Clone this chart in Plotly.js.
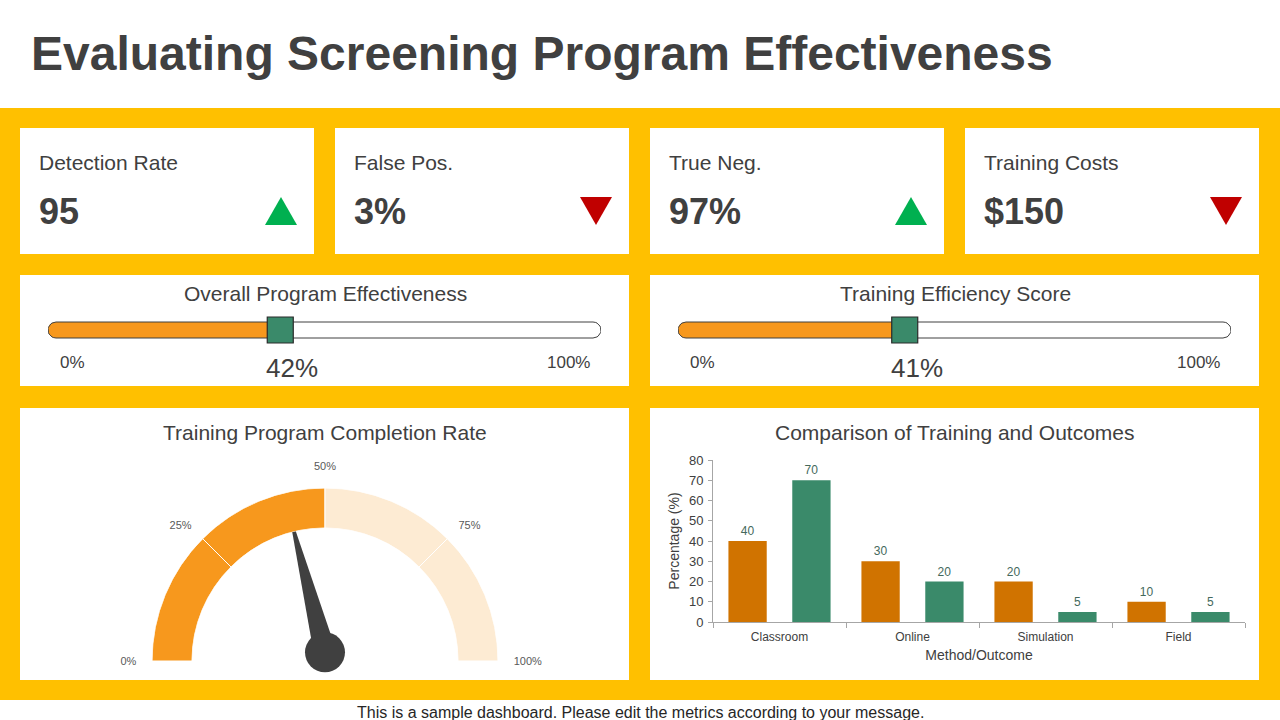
<!DOCTYPE html>
<html>
<head>
<meta charset="utf-8">
<script src="https://cdn.plot.ly/plotly-3.0.1.min.js"></script>
<style>
  html, body { margin: 0; padding: 0; background: #ffffff; }
  #dash { width: 1280px; height: 720px; }
</style>
</head>
<body>
<div id="dash"></div>
<script>
// ---- Dashboard values ----
const pageTitle = 'Evaluating Screening Program Effectiveness';
const footerNote = 'This is a sample dashboard. Please edit the metrics according to your message.';

const kpiLabels = ['Detection Rate', 'False Pos.', 'True Neg.', 'Training Costs'];
const kpiValues = ['95', '3%', '97%', '$150'];
const kpiTrends = ['up', 'down', 'up', 'down'];

const progressTitles = ['Overall Program Effectiveness', 'Training Efficiency Score'];
const progressValues = [42, 41];

const gaugeTitle = 'Training Program Completion Rate';
const gaugeBands = [0, 25, 50, 75, 100];
const gaugeFilled = 50;
const gaugeNeedle = 42;
const gaugeTickText = ['0%', '25%', '50%', '75%', '100%'];

const barTitle = 'Comparison of Training and Outcomes';
const methods = ['Classroom', 'Online', 'Simulation', 'Field'];
const trainingPct = [40, 30, 20, 10];
const outcomePct = [70, 20, 5, 5];

// ---- Page geometry helpers (pixel -> paper) ----
const W = 1280, H = 720;
const px = v => v / W;
const py = v => 1 - v / H;

const TXT = '#404040';
const YELLOW = '#FFC000';
const ORANGE = '#F7981D';
const PEACH = '#FDEBD3';
const GREEN = '#3A8A6A';
const BAR_ORANGE = '#D07300';
const FONT = 'Liberation Sans, Arial, sans-serif';

const shapes = [];
const annotations = [];
const traces = [];

function rect(x0, y0, x1, y1, color) {
  shapes.push({type: 'rect', xref: 'paper', yref: 'paper', layer: 'below',
    x0: px(x0), x1: px(x1), y0: py(y1), y1: py(y0),
    fillcolor: color, line: {width: 0}});
}
function label(x, y, text, size, opts) {
  annotations.push(Object.assign({xref: 'paper', yref: 'paper', x: px(x), y: py(y),
    text: text, showarrow: false, xanchor: 'center', yanchor: 'middle',
    font: {family: FONT, size: size, color: TXT}}, opts || {}));
}

// Yellow band behind the cards
rect(0, 108, 1280, 700, YELLOW);

// Title and footer
label(29, 54, '<b>' + pageTitle + '</b>', 48, {xanchor: 'left'});
label(640, 712, footerNote, 16, {font: {family: FONT, size: 16, color: '#262626'}});

// ---- KPI cards ----
const kpiLeft = [20, 335, 650, 965];
kpiLabels.forEach((lab, i) => {
  const x0 = kpiLeft[i];
  rect(x0, 128, x0 + 294, 254, '#ffffff');
  label(x0 + 17, 163, lab, 21, {xanchor: 'left'});
  label(x0 + 17, 211, '<b>' + kpiValues[i] + '</b>', 36, {xanchor: 'left'});
  // trend arrow
  const xl = x0 + 245, xr = x0 + 277, xm = (xl + xr) / 2, yt = 197, yb = 225;
  const up = kpiTrends[i] === 'up';
  const path = up
    ? `M${px(xl)},${py(yb)} L${px(xr)},${py(yb)} L${px(xm)},${py(yt)} Z`
    : `M${px(xl)},${py(yt)} L${px(xr)},${py(yt)} L${px(xm)},${py(yb)} Z`;
  shapes.push({type: 'path', xref: 'paper', yref: 'paper', path: path,
    fillcolor: up ? '#00B050' : '#C00000', line: {width: 0}});
});

// ---- Progress cards ----
const progLeft = [20, 650];
const trackLeft = [48, 678];
const trackWidth = 553;
const layoutAxes = {};

function pillOutline(halfH, kx) {
  // closed outline of a rounded track running from 0 to 100 on its own axis
  const r = halfH, xs = [], ys = [];
  const xa = r * kx, xb = 100 - r * kx;
  for (let a = -90; a <= 90; a += 10) {
    const t = a * Math.PI / 180;
    xs.push(xb + Math.cos(t) * r * kx); ys.push(Math.sin(t) * r);
  }
  for (let a = 90; a <= 270; a += 10) {
    const t = a * Math.PI / 180;
    xs.push(xa + Math.cos(t) * r * kx); ys.push(Math.sin(t) * r);
  }
  xs.push(xs[0]); ys.push(ys[0]);
  return {x: xs, y: ys};
}

progressTitles.forEach((title, i) => {
  const c0 = progLeft[i];
  rect(c0, 275, c0 + 609, 386, '#ffffff');
  label(c0 + 305, 293, title, 21);
  label(c0 + 52, 362, '0%', 17);
  label(c0 + 548, 362, '100%', 17);

  const n = i + 2;
  const xa = 'x' + n, ya = 'y' + n;
  layoutAxes['xaxis' + n] = {domain: [px(trackLeft[i]), px(trackLeft[i] + trackWidth)],
    range: [0, 100], visible: false, fixedrange: true, anchor: ya};
  layoutAxes['yaxis' + n] = {domain: [py(344), py(316)], range: [-14, 14],
    visible: false, fixedrange: true, anchor: xa};

  const v = progressValues[i];
  // filled part, rounded at the 0% end
  traces.push({type: 'bar', orientation: 'h', xaxis: xa, yaxis: ya,
    y: [0], x: [-v], base: [v], width: 16,
    marker: {color: ORANGE, cornerradius: 8, line: {width: 0}},
    hoverinfo: 'skip', showlegend: false});
  const kx = 100 / trackWidth;
  const o = pillOutline(8, kx);
  traces.push({type: 'scatter', mode: 'lines', xaxis: xa, yaxis: ya, x: o.x, y: o.y,
    line: {color: '#404040', width: 1}, hoverinfo: 'skip', showlegend: false});
  traces.push({type: 'scatter', mode: 'markers', xaxis: xa, yaxis: ya, x: [v], y: [0],
    marker: {symbol: 'square', size: 26, color: GREEN, line: {color: '#2a2a2a', width: 1.2}},
    cliponaxis: false, hoverinfo: 'skip', showlegend: false});
  annotations.push({xref: xa, yref: 'paper', x: v, y: py(368), xshift: 12,
    text: v + '%', showarrow: false, xanchor: 'center', yanchor: 'middle',
    font: {family: FONT, size: 26, color: TXT}});
});

// ---- Gauge card ----
rect(20, 408, 629, 680, '#ffffff');
label(325, 432, gaugeTitle, 21);
rect(650, 408, 1259, 680, '#ffffff');
label(955, 432, barTitle, 21);

const gx0 = 152, gx1 = 498, gyTop = 488, gyBase = 661;
const bandTheta = [], bandWidth = [], bandColor = [], bandR = [];
for (let k = 0; k < gaugeBands.length - 1; k++) {
  const a = gaugeBands[k], b = gaugeBands[k + 1];
  bandTheta.push((a + b) / 2 * 1.8);
  bandWidth.push((b - a) * 1.8);
  bandColor.push(b <= gaugeFilled ? ORANGE : PEACH);
  bandR.push(1);
}
traces.push({type: 'barpolar', subplot: 'polar', r: bandR, theta: bandTheta, width: bandWidth,
  marker: {color: bandColor, line: {color: '#ffffff', width: 1}},
  hoverinfo: 'skip', showlegend: false});

// needle drawn on an equal-scale overlay centred on the gauge pivot
layoutAxes.xaxis4 = {domain: [px(gx0), px(gx1)], range: [-1, 1], visible: false, fixedrange: true, anchor: 'y4'};
layoutAxes.yaxis4 = {domain: [py(gyBase), py(gyTop)], range: [0, 1], visible: false, fixedrange: true, anchor: 'x4'};
const pivotY = 0.05;
const phi = Math.PI * (1 - gaugeNeedle / 100);
const needleLen = 0.86, needleHalf = 0.065;
const tip = [Math.cos(phi) * needleLen, pivotY + Math.sin(phi) * needleLen];
const b1 = [-Math.sin(phi) * needleHalf, pivotY + Math.cos(phi) * needleHalf];
const b2 = [Math.sin(phi) * needleHalf, pivotY - Math.cos(phi) * needleHalf];
traces.push({type: 'scatter', mode: 'lines', xaxis: 'x4', yaxis: 'y4', fill: 'toself',
  x: [b1[0], tip[0], b2[0], b1[0]], y: [b1[1], tip[1], b2[1], b1[1]],
  fillcolor: '#404040', line: {width: 0, color: '#404040'}, cliponaxis: false,
  hoverinfo: 'skip', showlegend: false});
traces.push({type: 'scatter', mode: 'markers', xaxis: 'x4', yaxis: 'y4', x: [0], y: [pivotY],
  marker: {size: 40, color: '#404040'}, cliponaxis: false, hoverinfo: 'skip', showlegend: false});

// ---- Grouped bar chart ----
const labelColor = '#44695c';
traces.push({type: 'bar', name: 'Training', x: methods, y: trainingPct, xaxis: 'x', yaxis: 'y',
  marker: {color: BAR_ORANGE}, text: trainingPct.map(String), textposition: 'outside',
  textfont: {family: FONT, size: 12, color: labelColor}, cliponaxis: false, showlegend: false});
traces.push({type: 'bar', name: 'Outcome', x: methods, y: outcomePct, xaxis: 'x', yaxis: 'y',
  marker: {color: GREEN}, text: outcomePct.map(String), textposition: 'outside',
  textfont: {family: FONT, size: 12, color: labelColor}, cliponaxis: false, showlegend: false});

const layout = Object.assign({
  width: W, height: H,
  margin: {l: 0, r: 0, t: 0, b: 0},
  paper_bgcolor: '#ffffff', plot_bgcolor: 'rgba(0,0,0,0)',
  font: {family: FONT, color: TXT},
  showlegend: false,
  barmode: 'group', bargap: 0.04, bargroupgap: 0.4,
  shapes: shapes, annotations: annotations,
  xaxis: {domain: [px(713), px(1245)], anchor: 'y', type: 'category',
    showline: true, linecolor: '#A6A6A6', linewidth: 1, showgrid: false, zeroline: false,
    ticks: 'outside', tickson: 'boundaries', ticklen: 5, tickcolor: '#A6A6A6',
    ticklabelstandoff: 4,
    tickfont: {family: FONT, size: 12, color: TXT},
    title: {text: 'Method/Outcome', font: {family: FONT, size: 14, color: TXT}, standoff: 6},
    fixedrange: true},
  yaxis: {domain: [py(622), py(460)], anchor: 'x', range: [0, 80], dtick: 10,
    showline: true, linecolor: '#A6A6A6', linewidth: 1, showgrid: false, zeroline: false,
    ticks: 'outside', ticklen: 4, tickcolor: '#A6A6A6', ticklabelstandoff: 2,
    tickfont: {family: FONT, size: 13, color: TXT},
    title: {text: 'Percentage (%)', font: {family: FONT, size: 14, color: TXT}, standoff: 6},
    fixedrange: true},
  polar: {domain: {x: [px(gx0), px(gx1)], y: [py(gyBase), py(gyTop)]},
    sector: [0, 180], hole: 133 / 173, bgcolor: 'rgba(0,0,0,0)',
    radialaxis: {visible: false, range: [0, 1]},
    angularaxis: {rotation: 180, direction: 'clockwise', tickmode: 'array',
      tickvals: gaugeBands.map(v => v * 1.8), ticktext: gaugeTickText,
      showline: false, showgrid: false, ticks: 'outside', ticklen: 13, tickcolor: 'rgba(0,0,0,0)',
      tickfont: {family: FONT, size: 11, color: '#595959'}}}
}, layoutAxes);

Plotly.newPlot('dash', traces, layout, {displayModeBar: false, staticPlot: true});
</script>
</body>
</html>
